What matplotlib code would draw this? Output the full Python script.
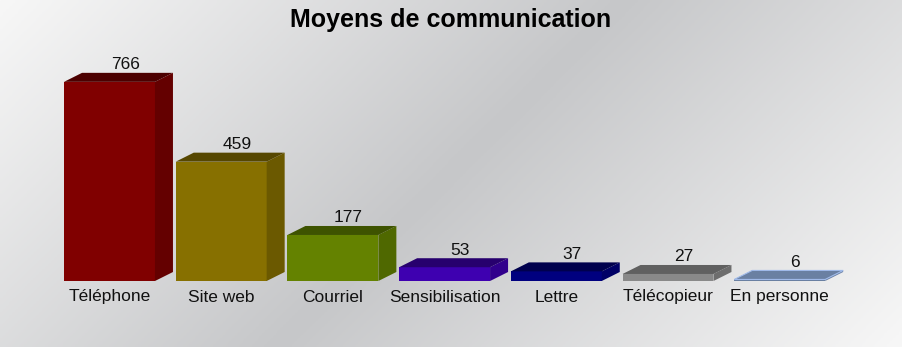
import numpy as np
import matplotlib.pyplot as plt
from matplotlib.patches import Polygon
from matplotlib.colors import LinearSegmentedColormap

categories = ['Téléphone', 'Site web', 'Courriel', 'Sensibilisation', 'Lettre', 'Télécopieur', 'En personne']
values = [766, 459, 177, 53, 37, 27, 6]
front = ['#800000', '#877000', '#648200', '#3e00b0', '#00007f', '#898989', '#6a80a2']
side = ['#640000', '#6b5900', '#4f6800', '#31008c', '#000066', '#6d6d6d', '#6a80a2']
top = ['#4c0000', '#564700', '#3e5300', '#27006e', '#00004d', '#606060', '#6a80a2']

plt.rcParams['font.family'] = ['Liberation Sans', 'DejaVu Sans']

fig = plt.figure(figsize=(9.02, 3.47), dpi=100)

# diagonal background gradient: light top-left, gray middle, light bottom-right
bg = fig.add_axes([0, 0, 1, 1])
xx, yy = np.meshgrid(np.linspace(0, 1, 300), np.linspace(0, 1, 120))
t = (xx * 902 + yy * 347) / (902 + 347)
g = 1 - np.abs(t - 0.5) * 2
cmap = LinearSegmentedColormap.from_list('bg', ['#f7f7f7', '#c6c7c9'])
bg.imshow(g, cmap=cmap, aspect='auto', extent=[0, 1, 0, 1], origin='upper', vmin=0, vmax=1)
bg.set_axis_off()

# plot axes: slot 111.7 px, baseline at 281 px from top, 0.26 px per unit
slot = 111.7
xl = (-0.9, 7.0)
L = 109.5 + xl[0] * slot
W = (xl[1] - xl[0]) * slot
ymax = 900
H = ymax * 0.26
ax = fig.add_axes([L / 902, (347 - 281) / 347, W / 902, H / 347])
ax.set_xlim(*xl)
ax.set_ylim(0, ymax)
ax.set_axis_off()

hw = 0.407
dx = 18 / slot
dy = 9 / 0.26

for i, (v, c) in enumerate(zip(values, categories)):
    x0, x1 = i - hw, i + hw
    ax.add_patch(Polygon([(x0, 0), (x1, 0), (x1, v), (x0, v)], closed=True,
                         facecolor=front[i], edgecolor='none', clip_on=False))
    ax.add_patch(Polygon([(x1, 0), (x1 + dx, dy), (x1 + dx, v + dy), (x1, v)], closed=True,
                         facecolor=side[i], edgecolor='none', clip_on=False))
    ax.add_patch(Polygon([(x0, v), (x1, v), (x1 + dx, v + dy), (x0 + dx, v + dy)], closed=True,
                         facecolor=top[i], edgecolor='#9fb9e8' if i == 6 else 'none',
                         linewidth=0.8, clip_on=False))
    ax.text(i + 0.14, v + dy + 8 / 0.26, str(v), ha='center', va='center',
            fontsize=12.5, color='#111111', clip_on=False)
    ax.text(i, -16 / 0.26, c, ha='center', va='center', fontsize=12.5,
            color='#111111', clip_on=False)

fig.text(0.5, 1 - 20 / 347, 'Moyens de communication', ha='center', va='center',
         fontsize=18, fontweight='bold', color='#000000')

fig.savefig('out.png', dpi=100)
